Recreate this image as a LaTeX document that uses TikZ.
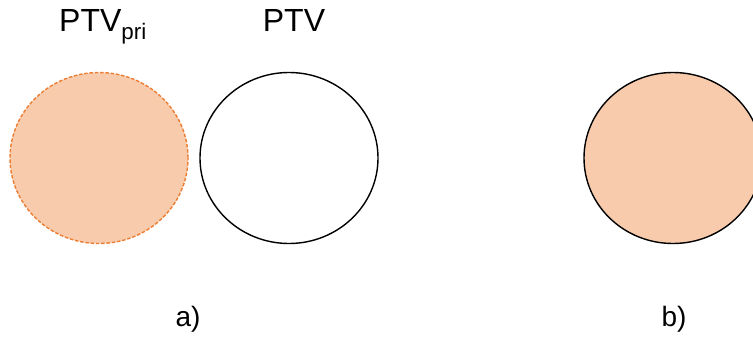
\documentclass[tikz,border=0pt]{standalone}
\usepackage{fontspec}
\setmainfont{Liberation Sans}
\usetikzlibrary{shapes.geometric}
\definecolor{PtvFill}{HTML}{F8CBAD}
\definecolor{PtvOrange}{HTML}{ED7D31}
\tikzset{
  volume/.style={ellipse, minimum width=178pt, minimum height=171pt, inner sep=0pt},
  primary/.style={volume, draw=PtvOrange, fill=PtvFill, dashed, line width=1.4pt,
                  dash pattern=on 3.5pt off 1.8pt},
  outline/.style={volume, draw=black, line width=1.4pt},
  ptvlabel/.style={anchor=base, font=\fontsize{32}{38}\selectfont, inner sep=0pt},
  panel/.style={anchor=base, font=\fontsize{28}{33}\selectfont, inner sep=0pt},
}

\begin{document}
\begin{tikzpicture}[x=1pt, y=-1pt]
  \useasboundingbox (0,0) rectangle (753,337);

  % panel a: primary volume beside the PTV
  \node[primary] (pri) at (99,158) {};
  \node[outline] (ptv) at (289,158) {};
  \node[ptvlabel] (prilabel) at (103,32) {PTV\textsubscript{pri}};
  \node[ptvlabel] (ptvlabel) at (294,32) {PTV};
  \node[panel] (a) at (188,326) {a)};

  % panel b: the two volumes merged
  \node[outline, fill=PtvFill] (merged) at (673,158) {};
  \node[panel] (b) at (674,326) {b)};
\end{tikzpicture}
\end{document}
